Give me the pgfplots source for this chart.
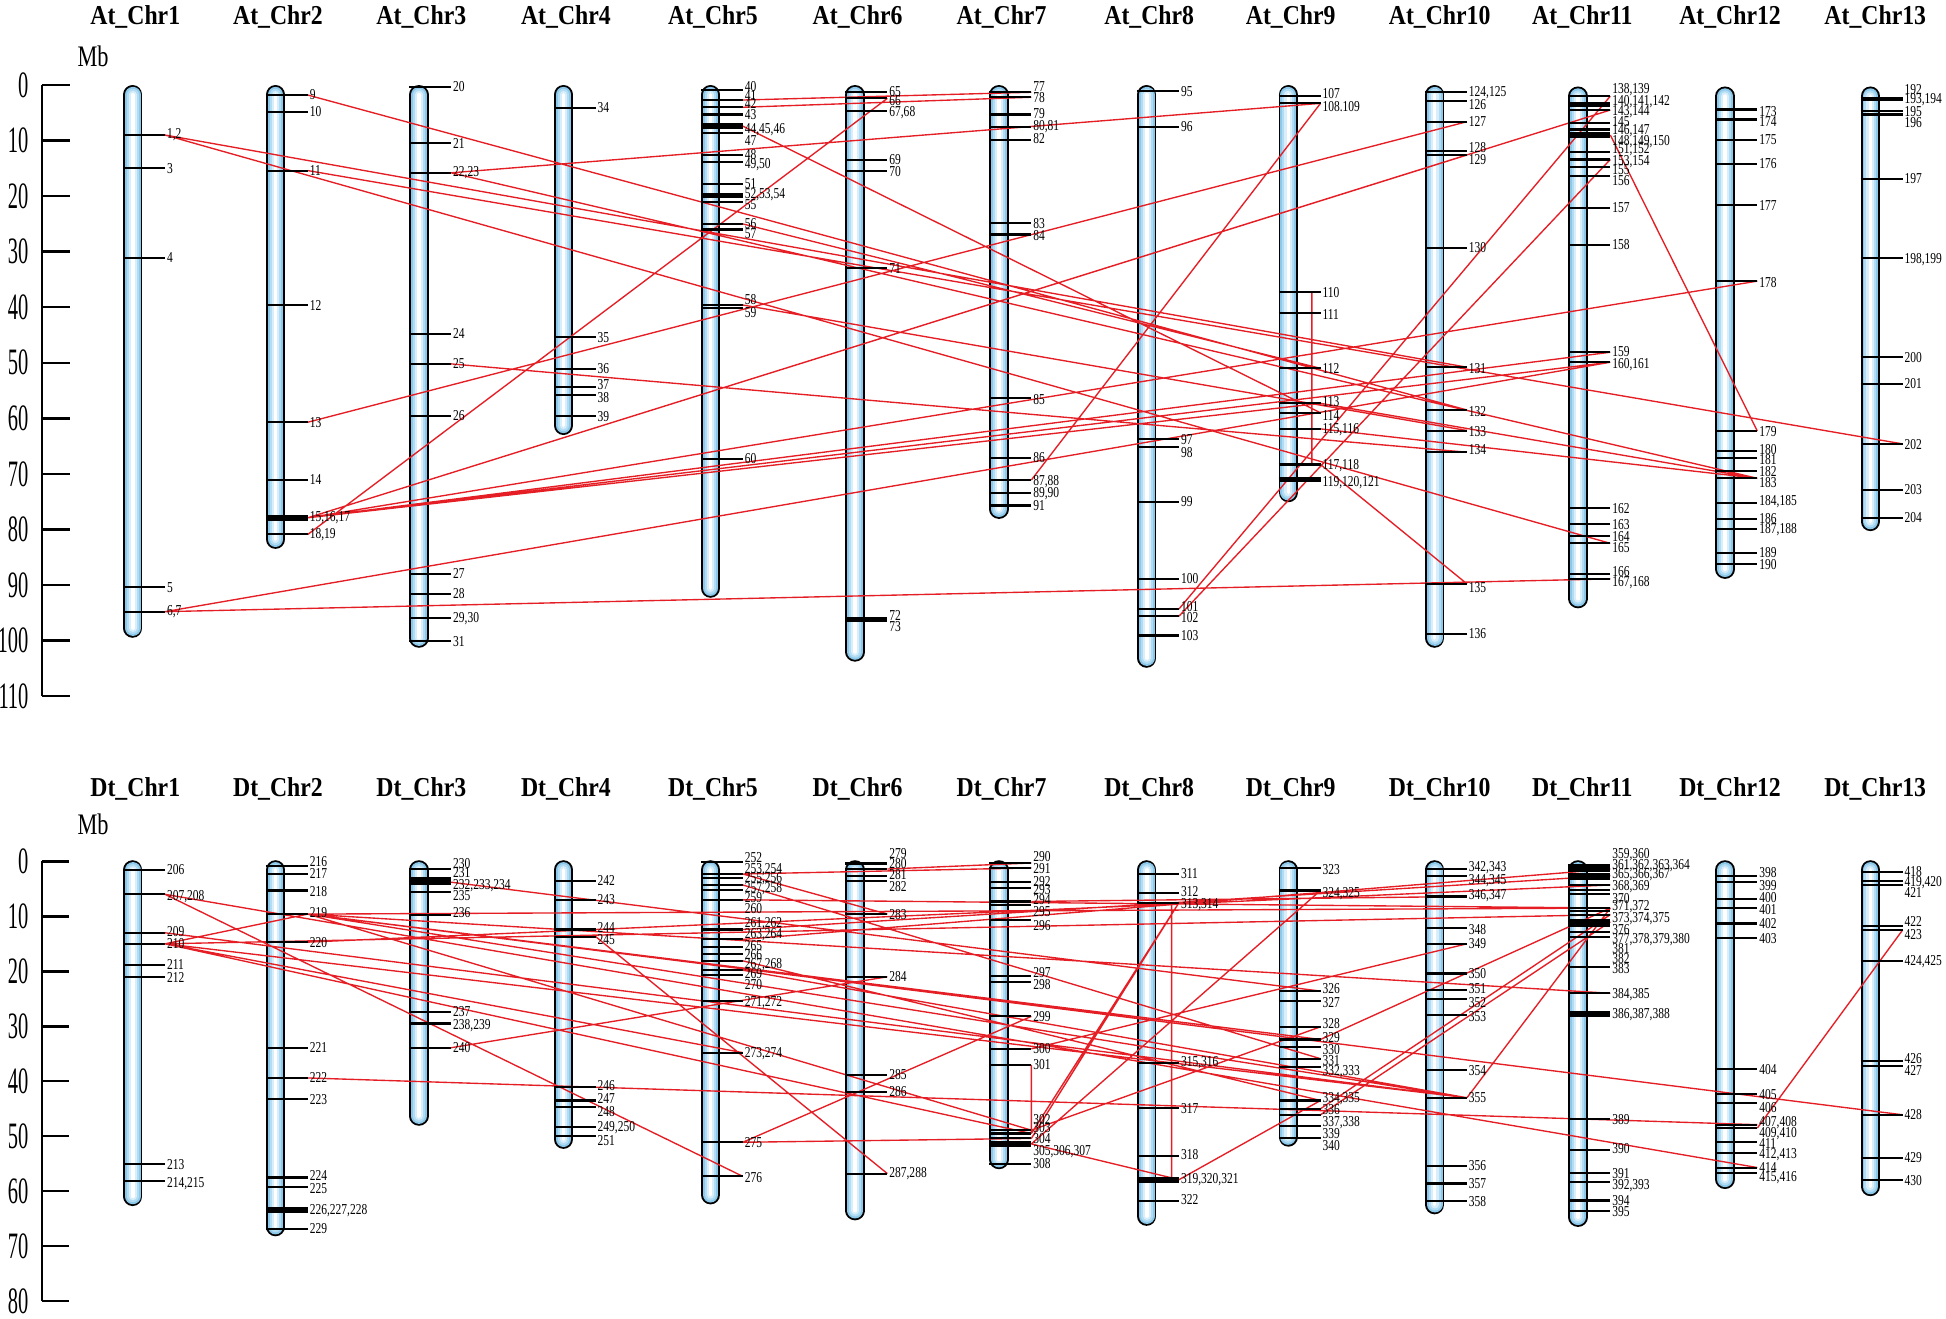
\documentclass[border=0pt]{standalone}
\usepackage{fontspec}
\setmainfont{Liberation Serif}
\newfontfamily\genefont{Liberation Serif}[FakeStretch=0.76]
\newfontfamily\tickfont{Liberation Serif}[FakeStretch=0.55]
\newfontfamily\titlefont{Liberation Serif}[FakeStretch=0.87]
\newfontfamily\mbfont{Liberation Serif}[FakeStretch=0.75]
\usepackage{pgfplots}
\pgfplotsset{compat=1.18}
\usepackage{pgfplotstable}
\definecolor{redl}{RGB}{228,30,36}
\definecolor{cA}{RGB}{140,200,234}
\definecolor{cB}{RGB}{178,220,243}
\definecolor{cC}{RGB}{216,238,250}
\newcommand\gf{\genefont\fontsize{6.1}{6.1}\selectfont}
\newcommand\tf{\tickfont\fontsize{15}{15}\selectfont}
\newcommand\hf{\titlefont\bfseries\fontsize{11}{11}\selectfont}
\newcommand\mf{\mbfont\fontsize{12}{12}\selectfont}
\pgfdeclareplotmark{gene}{%
  \pgfpathmoveto{\pgfqpoint{-3.9pt}{0pt}}%
  \pgfpathlineto{\pgfqpoint{13pt}{0pt}}%
  \pgfusepathqstroke}
\pgfplotsset{
  chrlayer/.style={mark=none, line cap=round, unbounded coords=jump, forget plot},
  genemarks/.style={only marks, mark=gene, mark options={line width=0.85pt, black}, forget plot},
  thickmarks/.style={only marks, mark=gene, mark options={line width=2.3pt, black}, forget plot},
  genelabels/.style={only marks, mark=none, forget plot, nodes near coords, point meta=explicit symbolic,
     nodes near coords align=horizontal,
     every node near coord/.append style={anchor=west, xshift=13.4pt, inner sep=0.2pt, font=\gf, text=black}},
  links/.style={redl, line width=0.55pt, mark=none, unbounded coords=jump, forget plot},
  panel/.style={x=0.5pt, y dir=reverse, xmin=34, xmax=1568, ymin=0,
     axis x line=none, axis y line=left, axis line style={line width=1pt, black, -},
     tick align=inside, major tick length=11pt, tick style={line width=1pt, black},
     yticklabel style={font=\tf, xshift=-2pt}, clip=false, anchor=north west}
}

% ---------------- At panel ----------------
\pgfplotstableread{
x y
107 1.74
107 97.76
nan nan
222 1.74
222 81.76
nan nan
337.5 1.74
337.5 99.56
nan nan
454 1.74
454 61.26
nan nan
572.5 1.74
572.5 90.56
nan nan
689 1.74
689 102.06
nan nan
805 1.74
805 76.36
nan nan
924 1.74
924 103.16
nan nan
1038 1.74
1038 73.36
nan nan
1156 1.74
1156 99.56
nan nan
1271.5 2.0
1271.5 92.46
nan nan
1390 2.0
1390 87.16
nan nan
1507 2.0
1507 78.56
}\atchr

\pgfplotstableread{
x y ly label
107 9.0 9.0 1,2
107 15.0 15.0 3
107 31.1 31.1 4
107 90.4 90.4 5
107 94.8 94.8 6,7
222 1.8 1.8 9
222 4.85 4.85 10
222 15.4 15.4 11
222 39.6 39.6 12
222 60.7 60.7 13
222 71.1 71.1 14
222 77.9 77.9 15,16,17
222 80.9 80.9 18,19
337.5 0.3 0.3 20
337.5 10.5 10.5 21
337.5 15.8 15.8 22,23
337.5 44.8 44.8 24
337.5 50.2 50.2 25
337.5 59.5 59.5 26
337.5 88.0 88.0 27
337.5 91.6 91.6 28
337.5 96.0 96.0 29,30
337.5 100.1 100.1 31
454 4.1 4.1 34
454 45.4 45.4 35
454 51.1 51.1 36
454 54.4 54.0 37
454 55.8 56.2 38
454 59.6 59.6 39
572.5 0.9 0.3 40
572.5 2.7 1.8 41
572.5 4.0 3.3 42
572.5 5.3 5.4 43
572.5 7.4 8.1 44,45,46
572.5 8.7 9.9 47
572.5 12.6 12.6 48
572.5 13.9 14.4 49,50
572.5 17.8 17.7 51
572.5 19.9 19.8 52,53,54
572.5 21.1 21.6 55
572.5 25.0 24.9 56
572.5 26.0 26.8 57
572.5 39.6 38.6 58
572.5 40.2 41.0 59
572.5 67.3 67.3 60
689 1.3 1.2 65
689 2.4 2.8 66
689 4.6 4.9 67,68
689 13.5 13.5 69
689 15.4 15.6 70
689 33.0 33.1 71
689 95.9 95.4 72
689 96.4 97.5 73
805 1.3 0.3 77
805 2.2 2.2 78
805 5.3 5.1 79
805 7.5 7.5 80,81
805 9.9 9.7 82
805 24.9 24.9 83
805 26.9 27.1 84
805 56.4 56.7 85
805 67.1 67.1 86
805 71.1 71.4 87,88
805 73.5 73.6 89,90
805 75.7 75.7 91
924 1.1 1.1 95
924 7.5 7.5 96
924 63.7 63.9 97
924 65.2 66.2 98
924 75.0 75.0 99
924 88.9 88.9 100
924 94.3 93.8 101
924 95.6 95.9 102
924 99.1 99.1 103
1038 2.0 1.6 107
1038 3.3 3.8 108.109
1038 37.3 37.3 110
1038 41.1 41.3 111
1038 51.0 51.0 112
1038 57.3 57.0 113
1038 59.0 59.4 114
1038 61.9 62.1 115,116
1038 68.3 68.6 117,118
1038 71.0 71.6 119,120,121
1156 1.2 1.4 124,125
1156 2.9 3.5 126
1156 6.6 6.6 127
1156 11.9 11.2 128
1156 12.6 13.4 129
1156 29.3 29.3 130
1156 50.8 51.1 131
1156 58.5 58.8 132
1156 62.2 62.4 133
1156 66.1 65.7 134
1156 89.8 90.4 135
1156 98.8 98.8 136
1271.5 2.0 0.8 138,139
1271.5 3.5 3.0 140,141,142
1271.5 4.5 4.8 143,144
1271.5 6.8 6.6 145
1271.5 8.0 8.3 146,147
1271.5 9.0 10.1 148,149,150
1271.5 12.0 11.7 151,152
1271.5 13.4 13.8 153,154
1271.5 14.7 15.3 155
1271.5 16.3 17.2 156
1271.5 22.2 22.0 157
1271.5 28.8 28.8 158
1271.5 48.1 47.9 159
1271.5 49.9 50.3 160,161
1271.5 76.2 76.2 162
1271.5 79.1 79.1 163
1271.5 81.2 81.2 164
1271.5 82.5 83.2 165
1271.5 88.1 87.6 166
1271.5 88.9 89.6 167,168
1390 4.4 4.8 173
1390 6.2 6.6 174
1390 9.9 9.9 175
1390 14.2 14.2 176
1390 21.6 21.7 177
1390 35.3 35.5 178
1390 62.3 62.3 179
1390 65.9 65.7 180
1390 67.1 67.4 181
1390 69.5 69.5 182
1390 70.8 71.6 183
1390 75.2 75.0 184,185
1390 78.1 78.1 186
1390 80.0 80.1 187,188
1390 84.3 84.1 189
1390 86.3 86.3 190
1507 2.3 0.8 192
1507 2.7 2.7 193,194
1507 4.6 4.7 195
1507 5.3 6.8 196
1507 16.9 16.9 197
1507 31.2 31.4 198,199
1507 49.0 49.0 200
1507 53.8 53.8 201
1507 64.6 64.7 202
1507 72.9 72.9 203
1507 77.9 77.9 204
}\atgenes

\pgfplotstableread{
x y
222 77.9
572.5 7.4
572.5 19.9
1038 71.0
1271.5 3.5
1271.5 9.0
}\atthick

\pgfplotstableread{
x y
133 9.0
1182 50.8
nan nan
133 9.0
1297.5 82.5
nan nan
133 94.8
1297.5 49.9
nan nan
133 94.8
1297.5 88.9
nan nan
248 1.8
1182 58.5
nan nan
248 15.4
1533 64.6
nan nan
248 60.7
1182 6.6
nan nan
248 77.9
1182 12.6
nan nan
248 77.9
1297.5 4.5
nan nan
248 77.9
1416 35.3
nan nan
248 77.9
1297.5 48.1
nan nan
248 77.9
1297.5 49.9
nan nan
248 77.9
1064 57.3
nan nan
248 80.9
715 2.4
nan nan
363.5 15.8
1064 3.3
nan nan
363.5 15.8
1416 70.8
nan nan
363.5 50.2
1182 66.1
nan nan
598.5 2.7
831 1.3
nan nan
598.5 4.0
831 2.2
nan nan
598.5 7.4
1064 59.0
nan nan
831 71.1
1064 3.3
nan nan
950 94.3
1297.5 2.0
nan nan
950 95.6
1297.5 13.4
nan nan
1057 37.3
1057 68.3
nan nan
1297.5 9.0
1416 62.3
nan nan
1064 68.3
1182 89.8
nan nan
598.5 25.0
1064 51.0
nan nan
598.5 39.6
1182 62.2
nan nan
1064 57.3
1416 70.8
nan nan
1064 61.9
1416 70.8
}\atlinks

% ---------------- Dt panel ----------------
\pgfplotstableread{
x y
107 1.56
107 60.94
nan nan
222 1.56
222 66.44
nan nan
337.5 1.56
337.5 46.34
nan nan
454 1.56
454 50.54
nan nan
572.5 1.56
572.5 60.64
nan nan
689 1.56
689 63.54
nan nan
805 1.56
805 54.24
nan nan
924 1.56
924 64.54
nan nan
1038 1.56
1038 50.14
nan nan
1156 1.56
1156 62.44
nan nan
1271.5 1.56
1271.5 64.74
nan nan
1390 1.56
1390 57.84
nan nan
1507 1.56
1507 59.14
}\dtchr

\pgfplotstableread{
x y ly label
107 1.5 1.5 206
107 6.0 6.4 207,208
107 13.0 12.8 209
107 15.0 15.0 210
107 18.9 18.7 211
107 21.0 21.1 212
107 55.1 55.1 213
107 58.2 58.6 214,215
222 0.8 0.0 216
222 2.3 2.3 217
222 5.3 5.5 218
222 9.6 9.4 219
222 14.7 14.7 220
222 33.9 33.9 221
222 39.4 39.4 222
222 43.2 43.4 223
222 57.5 57.2 224
222 59.3 59.5 225
222 63.4 63.6 226,227,228
222 66.8 66.8 229
337.5 1.4 0.4 230
337.5 3.0 2.1 231
337.5 3.8 4.4 232,233,234
337.5 5.5 6.3 235
337.5 9.7 9.4 236
337.5 27.4 27.4 237
337.5 29.5 29.8 238,239
337.5 33.9 33.9 240
454 3.5 3.5 242
454 7.0 7.0 243
454 12.4 12.1 244
454 13.7 14.3 245
454 41.1 40.7 246
454 43.5 43.2 247
454 44.7 45.6 248
454 48.4 48.5 249,250
454 49.9 50.7 251
572.5 0.1 -0.6 252
572.5 2.3 1.6 253,254
572.5 3.0 3.2 255,256
572.5 4.3 5.0 257,258
572.5 5.2 6.5 259
572.5 7.0 8.5 260
572.5 12.4 11.3 261,262
572.5 14.2 13.4 263,264
572.5 15.6 15.4 265
572.5 16.9 17.0 266
572.5 18.1 18.7 267,268
572.5 19.8 20.4 269
572.5 20.6 22.5 270
572.5 25.4 25.7 271,272
572.5 34.8 35.0 273,274
572.5 51.1 51.1 275
572.5 57.3 57.5 276
689 0.4 -1.5 279
689 1.4 0.4 280
689 2.6 2.4 281
689 3.5 4.6 282
689 9.6 9.6 283
689 21.0 21.0 284
689 38.8 38.8 285
689 41.9 41.9 286
689 56.8 56.8 287,288
805 0.3 -0.9 290
805 1.2 1.4 291
805 3.8 3.7 292
805 4.9 5.2 293
805 7.3 7.0 294
805 8.0 9.1 295
805 10.7 11.6 296
805 20.9 20.3 297
805 21.9 22.5 298
805 28.2 28.2 299
805 34.1 34.1 300
805 37.0 37.0 301
805 48.9 46.9 302
805 49.5 48.5 303
805 50.4 50.4 304
805 51.4 52.8 305,306,307
805 55.0 55.0 308
924 2.3 2.3 311
924 5.7 5.5 312
924 7.5 7.9 313,314
924 36.7 36.7 315,316
924 44.9 44.9 317
924 53.6 53.4 318
924 57.9 57.9 319,320,321
924 61.8 61.6 322
1038 1.2 1.5 323
1038 5.3 5.8 324,325
1038 23.6 23.2 326
1038 25.4 25.7 327
1038 30.1 29.5 328
1038 32.4 32.1 329
1038 33.8 34.3 330
1038 35.9 36.3 331
1038 37.4 38.3 332,333
1038 43.5 43.2 334,335
1038 45.0 45.2 336
1038 46.1 47.5 337,338
1038 48.1 49.6 339
1038 50.4 51.7 340
1156 1.4 1.2 342,343
1156 2.6 3.5 344,345
1156 6.4 6.3 346,347
1156 12.2 12.4 348
1156 15.0 14.9 349
1156 20.4 20.4 350
1156 23.4 23.1 351
1156 25.1 25.6 352
1156 28.0 28.2 353
1156 38.0 38.0 354
1156 43.0 43.0 355
1156 55.4 55.4 356
1156 58.6 58.7 357
1156 61.8 61.8 358
1271.5 0.6 -1.2 359,360
1271.5 1.4 0.8 361,362,363,364
1271.5 2.6 2.4 365,366,367
1271.5 3.2 4.6 368,369
1271.5 4.3 6.7 370
1271.5 8.5 8.2 371,372
1271.5 9.7 10.5 373,374,375
1271.5 11.0 12.4 376
1271.5 11.7 14.2 377,378,379,380
1271.5 12.8 15.8 381
1271.5 13.7 17.7 382
1271.5 19.2 19.5 383
1271.5 24.0 24.2 384,385
1271.5 27.8 27.9 386,387,388
1271.5 46.9 46.9 389
1271.5 52.5 52.3 390
1271.5 56.7 56.8 391
1271.5 58.4 59.0 392,393
1271.5 61.7 61.7 394
1271.5 63.6 63.7 395
1390 2.6 2.1 398
1390 3.8 4.4 399
1390 6.9 6.5 400
1390 8.5 8.8 401
1390 11.3 11.3 402
1390 14.0 14.0 403
1390 37.7 37.9 404
1390 42.4 42.4 405
1390 43.9 44.7 406
1390 47.9 47.5 407,408
1390 48.5 49.5 409,410
1390 51.1 51.3 411
1390 53.1 53.4 412,413
1390 55.7 55.6 414
1390 56.7 57.6 415,416
1507 1.9 1.8 418
1507 3.5 3.8 419,420
1507 4.3 5.7 421
1507 11.7 11.0 422
1507 12.5 13.3 423
1507 18.1 18.2 424,425
1507 36.3 35.9 426
1507 37.2 38.0 427
1507 46.1 46.1 428
1507 53.9 53.9 429
1507 58.0 58.0 430
}\dtgenes

\pgfplotstableread{
x y
1271.5 5.2
1271.5 5.9
1271.5 9.1
}\dtextra

\pgfplotstableread{
x y
222 63.4
337.5 3.8
805 51.4
924 57.9
1271.5 1.4
1271.5 2.6
1271.5 11.0
1271.5 27.8
}\dtthick

\pgfplotstableread{
x y
133 6.0
598.5 57.3
nan nan
133 6.0
1416 55.7
nan nan
133 15.0
248 9.6
nan nan
133 15.0
1297.5 9.7
nan nan
133 15.0
1182 43.0
nan nan
133 13.0
1182 43.0
nan nan
133 15.0
831 49.5
nan nan
133 15.0
598.5 34.8
nan nan
248 9.6
1297.5 8.5
nan nan
248 9.6
1297.5 24.0
nan nan
248 9.6
1064 32.4
nan nan
248 9.6
1182 43.0
nan nan
248 9.6
1533 46.1
nan nan
248 9.6
831 48.9
nan nan
248 14.7
1297.5 4.3
nan nan
248 39.4
1416 47.9
nan nan
363.5 3.8
1064 23.6
nan nan
363.5 33.9
715 21.0
nan nan
480 13.7
715 56.8
nan nan
598.5 2.3
715 9.6
nan nan
598.5 2.3
831 1.2
nan nan
715 1.4
831 0.3
nan nan
598.5 51.1
831 28.2
nan nan
598.5 51.1
831 50.4
nan nan
831 34.1
1182 15.0
nan nan
831 37.0
831 49.5
nan nan
831 49.5
950 7.5
nan nan
831 50.4
950 7.5
nan nan
831 51.4
1064 5.3
nan nan
831 51.4
950 57.9
nan nan
944 7.5
944 57.9
nan nan
950 57.9
1064 43.5
nan nan
1182 43.0
1297.5 8.5
nan nan
1064 45.0
1297.5 9.7
nan nan
1064 46.1
1297.5 11.0
nan nan
1064 32.4
1297.5 8.5
nan nan
1416 48.5
1533 12.5
nan nan
598.5 14.2
1297.5 1.4
nan nan
831 7.3
1182 6.4
nan nan
598.5 12.4
1297.5 2.6
nan nan
598.5 4.3
1064 35.9
nan nan
598.5 18.1
1064 43.5
nan nan
598.5 19.8
1182 43.0
nan nan
831 48.9
1064 30.1
nan nan
598.5 7.0
1297.5 8.5
}\dtlinks

\begin{document}
\begin{tikzpicture}
\useasboundingbox (0,0) rectangle (784pt,-531pt);

% ===== At panel =====
\begin{axis}[panel, at={(17pt,-34.25pt)}, y=2.238pt, ymax=110,
  ytick={0,10,20,30,40,50,60,70,80,90,100,110},
  yticklabels={0,10,20,30,40,50,60,70,80,90,100,110}]
\addplot[chrlayer, line width=7.8pt, black] table {\atchr};
\addplot[chrlayer, line width=6.3pt, cA] table {\atchr};
\addplot[chrlayer, line width=4.7pt, cB] table {\atchr};
\addplot[chrlayer, line width=3.1pt, cC] table {\atchr};
\addplot[chrlayer, line width=1.4pt, white] table {\atchr};
\addplot[genemarks] table[x=x, y=y] {\atgenes};
\addplot[thickmarks] table[x=x, y=y] {\atthick};
\addplot[genelabels] table[x=x, y=ly, meta=label] {\atgenes};
\addplot[links] table {\atlinks};
\node[font=\mf] at (axis cs:75,-5.2) {Mb};
\node[font=\hf] at (axis cs:109,-12.2) {At\_Chr1};
\node[font=\hf] at (axis cs:224,-12.2) {At\_Chr2};
\node[font=\hf] at (axis cs:339.5,-12.2) {At\_Chr3};
\node[font=\hf] at (axis cs:456,-12.2) {At\_Chr4};
\node[font=\hf] at (axis cs:574.5,-12.2) {At\_Chr5};
\node[font=\hf] at (axis cs:691,-12.2) {At\_Chr6};
\node[font=\hf] at (axis cs:807,-12.2) {At\_Chr7};
\node[font=\hf] at (axis cs:926,-12.2) {At\_Chr8};
\node[font=\hf] at (axis cs:1040,-12.2) {At\_Chr9};
\node[font=\hf] at (axis cs:1160,-12.2) {At\_Chr10};
\node[font=\hf] at (axis cs:1275,-12.2) {At\_Chr11};
\node[font=\hf] at (axis cs:1394,-12.2) {At\_Chr12};
\node[font=\hf] at (axis cs:1511,-12.2) {At\_Chr13};
\end{axis}

% ===== Dt panel =====
\begin{axis}[panel, at={(17pt,-347pt)}, y=2.215pt, ymax=80,
  ytick={0,10,20,30,40,50,60,70,80},
  yticklabels={0,10,20,30,40,50,60,70,80}]
\addplot[chrlayer, line width=7.8pt, black] table {\dtchr};
\addplot[chrlayer, line width=6.3pt, cA] table {\dtchr};
\addplot[chrlayer, line width=4.7pt, cB] table {\dtchr};
\addplot[chrlayer, line width=3.1pt, cC] table {\dtchr};
\addplot[chrlayer, line width=1.4pt, white] table {\dtchr};
\addplot[genemarks] table[x=x, y=y] {\dtgenes};
\addplot[genemarks] table[x=x, y=y] {\dtextra};
\addplot[thickmarks] table[x=x, y=y] {\dtthick};
\addplot[genelabels] table[x=x, y=ly, meta=label] {\dtgenes};
\addplot[links] table {\dtlinks};
\node[font=\mf] at (axis cs:75,-6.8) {Mb};
\node[font=\hf] at (axis cs:109,-13.1) {Dt\_Chr1};
\node[font=\hf] at (axis cs:224,-13.1) {Dt\_Chr2};
\node[font=\hf] at (axis cs:339.5,-13.1) {Dt\_Chr3};
\node[font=\hf] at (axis cs:456,-13.1) {Dt\_Chr4};
\node[font=\hf] at (axis cs:574.5,-13.1) {Dt\_Chr5};
\node[font=\hf] at (axis cs:691,-13.1) {Dt\_Chr6};
\node[font=\hf] at (axis cs:807,-13.1) {Dt\_Chr7};
\node[font=\hf] at (axis cs:926,-13.1) {Dt\_Chr8};
\node[font=\hf] at (axis cs:1040,-13.1) {Dt\_Chr9};
\node[font=\hf] at (axis cs:1160,-13.1) {Dt\_Chr10};
\node[font=\hf] at (axis cs:1275,-13.1) {Dt\_Chr11};
\node[font=\hf] at (axis cs:1394,-13.1) {Dt\_Chr12};
\node[font=\hf] at (axis cs:1511,-13.1) {Dt\_Chr13};
\end{axis}
\end{tikzpicture}
\end{document}
